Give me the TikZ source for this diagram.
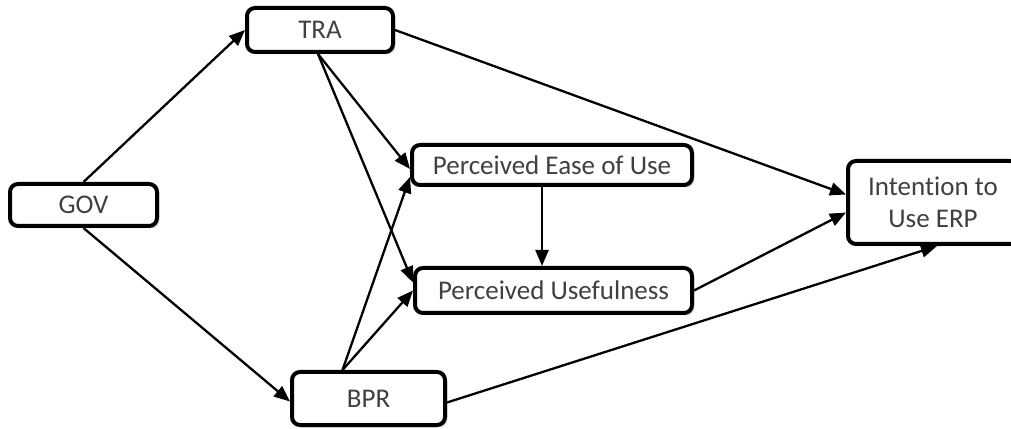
\documentclass[tikz,border=0pt]{standalone}
\usepackage{fontspec}
\setmainfont{Carlito}[Ligatures=NoCommon]
\usetikzlibrary{arrows.meta,shadows}
\definecolor{txtgray}{HTML}{404040}

\begin{document}
\begin{tikzpicture}[x=1pt,y=1pt,
  box/.style={draw, line width=4pt, rounded corners=8pt, fill=white, inner sep=0pt,
    text=txtgray, font=\fontsize{27}{32}\selectfont, align=center,
    drop shadow={opacity=0.25, shadow xshift=2.5pt, shadow yshift=-2.5pt}},
  arr/.style={line width=2.3pt, -{Triangle[length=16pt,width=13pt]}}]

\useasboundingbox (0,0) rectangle (1011,428);

\node[box, minimum width=147pt, minimum height=42pt] (gov) at (83.5,223) {GOV};
\node[box, minimum width=146pt, minimum height=44pt] (tra) at (320,398) {TRA};
\node[box, minimum width=280pt, minimum height=40pt] (peou) at (552,263) {Perceived Ease of Use};
\node[box, minimum width=277pt, minimum height=45pt] (pu) at (553.5,137.5) {Perceived Usefulness};
\node[box, minimum width=170pt, minimum height=83pt] (intent) at (933,225.5) {Intention to\\Use ERP};
\node[box, minimum width=153pt, minimum height=53pt] (bpr) at (368.5,29.5) {BPR};

\draw[arr] (gov.north) -- (tra.west);
\draw[arr] (gov.south) -- ([yshift=-3pt]bpr.west);
\draw[arr] (tra.east) -- ([yshift=8pt]intent.west);
\draw[arr] ([xshift=-2pt]tra.south) -- ([yshift=-4pt]peou.west);
\draw[arr] ([xshift=-2pt]tra.south) -- ([yshift=8pt]pu.west);
\draw[arr] ([xshift=-26pt]bpr.north) -- ([yshift=-12pt]peou.west);
\draw[arr] ([xshift=-26pt]bpr.north) -- (pu.west);
\draw[arr] ([xshift=-10pt]peou.south) -- ([xshift=-10pt]peou.south |- pu.north);
\draw[arr] (pu.east) -- ([yshift=-10pt]intent.west);
\draw[arr] ([yshift=-4pt]bpr.east) -- ([xshift=4pt]intent.south);

\end{tikzpicture}
\end{document}
